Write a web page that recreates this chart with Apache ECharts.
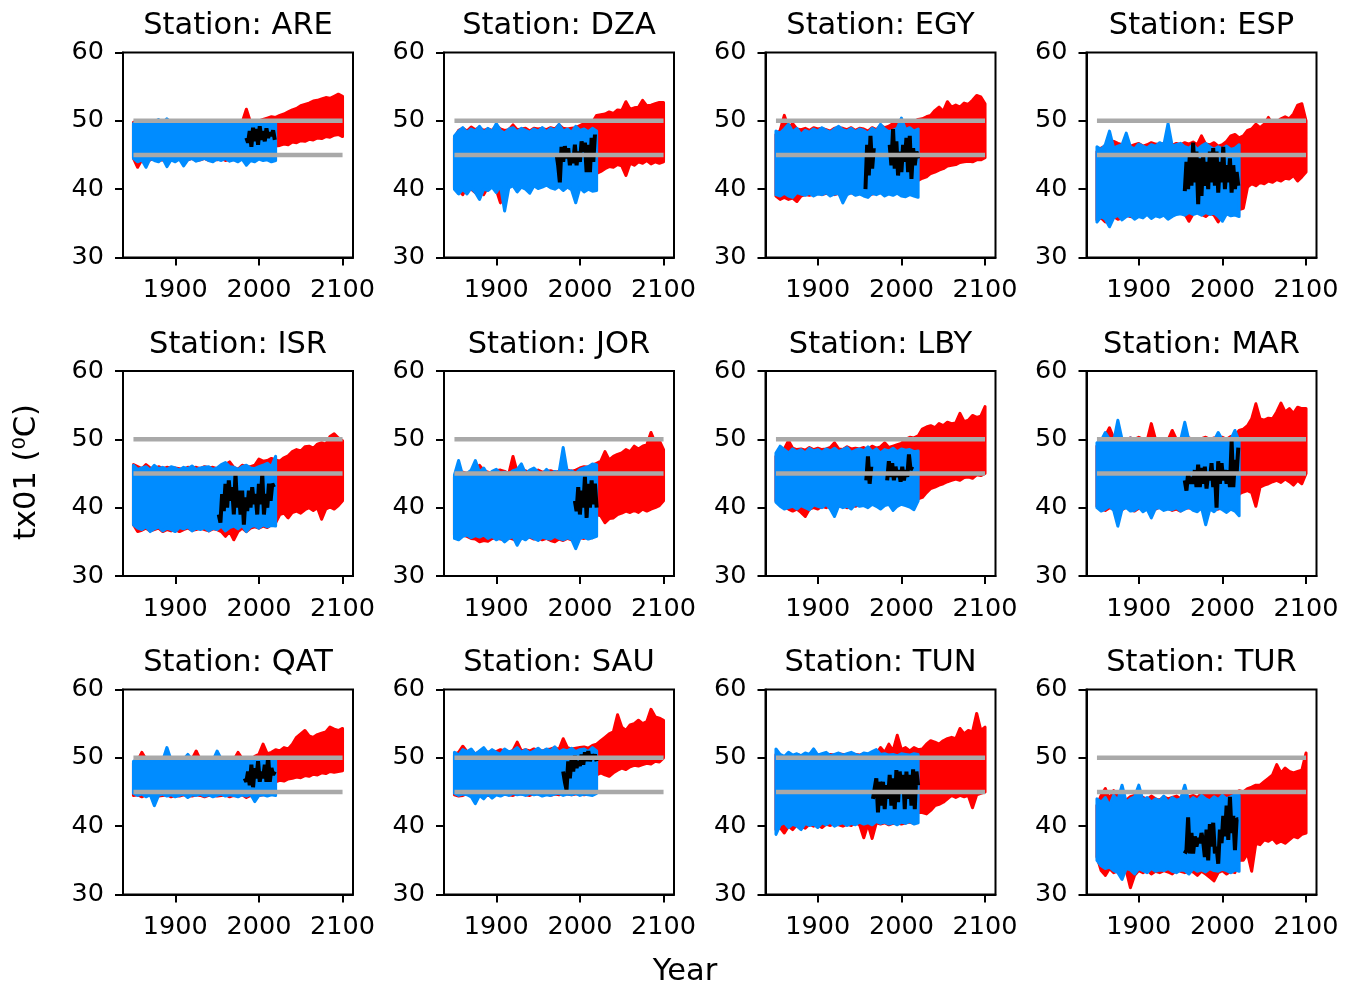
<!DOCTYPE html>
<html>
<head>
<meta charset="utf-8">
<script src="https://cdn.jsdelivr.net/npm/echarts@6/dist/echarts.min.js"></script>
<style>
html, body { margin: 0; padding: 0; background: #fff; }
#chart { width: 1352px; height: 985px; }
</style>
</head>
<body>
<div id="chart"></div>
<script>
// stations, one panel each
var stations = ['ARE', 'DZA', 'EGY', 'ESP', 'ISR', 'JOR', 'LBY', 'MAR', 'QAT', 'SAU', 'TUN', 'TUR'];

// sample years for the model envelopes (blue stops at 2020, index 34)
var years = [1850, 1855, 1860, 1865, 1870, 1875, 1880, 1885, 1890, 1895,
             1900, 1905, 1910, 1915, 1920, 1925, 1930, 1935, 1940, 1945,
             1950, 1955, 1960, 1965, 1970, 1975, 1980, 1985, 1990, 1995,
             2000, 2005, 2010, 2015, 2020, 2025, 2030, 2035, 2040, 2045,
             2050, 2055, 2060, 2065, 2070, 2075, 2080, 2085, 2090, 2095, 2100];

var xTicks = [1900, 2000, 2100];
var thresholds = [45, 50];
var thresholdSpan = [1850, 2100];

// historical model range (blue), 1850-2020
var blueHi = {
  ARE: [49.6,49.9,49.5,50.0,49.7,49.8,50.2,49.6,50.3,49.7,49.9,49.5,50.0,49.6,49.8,49.7,49.9,49.5,49.8,49.6,50.0,49.7,49.5,49.9,49.6,49.8,49.7,49.9,49.6,49.8,49.7,49.5,49.9,49.6,49.8],
  DZA: [47.8,48.5,49.0,48.3,48.8,48.5,49.2,48.3,48.9,48.4,49.6,48.6,48.2,48.8,49.0,48.4,48.9,48.6,48.3,48.8,48.5,49.0,48.4,48.9,48.6,49.5,48.5,48.8,48.3,49.2,48.6,48.8,48.4,48.9,48.5],
  EGY: [48.5,48.2,48.8,49.5,48.4,48.9,48.0,48.6,48.3,48.8,48.5,49.0,48.6,48.3,48.8,49.2,48.7,48.5,48.9,48.4,48.8,48.6,48.2,48.9,48.5,49.5,48.8,48.4,48.6,48.9,50.4,48.7,49.0,48.5,48.8],
  ESP: [46.2,45.8,46.5,48.5,46.0,46.3,46.5,48.2,46.2,45.9,46.6,46.3,46.0,46.5,46.3,46.8,46.5,49.6,46.3,46.5,46.7,46.2,46.0,46.5,45.8,46.3,46.7,46.2,45.8,46.2,45.9,46.3,45.8,46.0,46.5],
  ISR: [46.2,45.6,45.8,46.0,45.5,46.2,45.7,45.9,45.6,46.0,45.8,45.5,45.9,45.7,46.1,45.6,45.8,45.9,46.0,45.6,45.8,46.3,46.6,46.0,45.9,45.6,46.0,46.2,45.8,45.7,46.0,46.2,46.5,46.0,47.5],
  JOR: [44.8,46.9,44.6,45.0,45.5,46.9,45.2,45.8,44.8,45.3,45.6,45.0,45.2,44.9,45.4,45.6,46.4,45.0,45.5,45.8,45.2,44.9,45.6,45.0,45.3,45.1,48.8,45.2,45.4,45.0,45.6,45.8,46.0,46.4,46.3],
  LBY: [48.0,49.0,48.5,48.0,48.6,48.2,48.5,48.0,48.7,48.3,48.5,48.1,48.6,48.3,48.7,48.2,48.5,48.8,48.1,48.4,48.6,48.3,48.9,48.2,48.6,48.0,48.5,48.3,48.7,48.2,48.6,48.4,48.5,48.2,48.3],
  MAR: [49.5,49.8,51.0,50.0,49.7,52.8,50.0,49.6,50.2,49.8,50.0,49.7,49.9,49.8,50.0,49.7,49.9,49.6,50.0,49.8,49.9,52.5,49.8,49.7,49.9,49.8,49.6,50.0,49.8,51.0,49.9,49.7,50.0,51.3,49.8],
  QAT: [49.5,49.8,49.6,49.9,49.5,49.7,49.8,49.6,51.5,49.7,49.9,49.6,49.8,50.5,49.7,49.6,49.8,49.7,49.9,49.6,51.0,49.8,49.7,49.9,49.6,49.8,49.5,49.7,49.6,49.9,49.8,49.7,49.6,49.8,49.9],
  SAU: [50.8,50.4,51.2,50.9,51.3,50.5,51.0,51.5,50.7,51.2,50.8,50.5,51.3,50.9,51.0,51.5,50.8,51.2,50.7,51.0,51.4,50.9,51.3,51.0,51.6,50.8,51.2,51.0,51.4,50.9,51.2,51.3,50.9,51.5,51.0],
  TUN: [51.3,50.5,50.2,50.8,50.4,50.6,50.3,50.7,50.5,51.3,50.4,50.6,50.8,50.3,50.5,50.7,50.4,50.6,50.8,50.5,50.3,50.7,50.6,50.9,51.2,50.5,50.6,50.4,50.5,50.3,50.6,50.5,50.4,50.6,50.5],
  TUR: [44.0,43.5,44.2,43.0,44.5,43.8,46.0,43.5,44.0,44.3,46.0,43.8,44.2,43.5,44.0,43.7,44.4,43.5,44.2,43.8,44.0,46.0,43.6,44.2,43.8,44.5,44.0,43.7,44.3,43.9,44.5,44.0,44.3,44.6,44.5]
};
var blueLo = {
  ARE: [44.5,44.0,44.3,43.2,44.5,44.2,44.0,44.5,43.3,44.3,44.0,44.4,43.4,44.3,44.5,44.1,44.3,44.5,44.2,44.0,44.4,44.2,44.5,44.1,44.3,44.0,44.4,43.5,44.2,44.0,44.4,44.2,44.3,44.0,44.2],
  DZA: [40.0,39.3,40.0,39.3,40.2,39.5,38.5,40.0,39.8,40.3,39.5,40.5,36.8,40.2,40.5,39.6,40.3,40.0,39.4,40.5,40.1,40.3,40.6,40.2,40.0,40.4,39.8,40.3,39.9,38.0,40.2,39.6,40.0,39.7,39.8],
  EGY: [39.2,39.0,39.4,39.0,38.8,39.5,39.3,39.1,39.4,39.0,39.3,39.2,39.5,39.0,39.3,39.4,38.0,39.2,39.5,39.1,39.3,39.0,38.8,39.4,39.2,39.5,39.0,39.3,39.1,39.4,39.0,38.9,39.2,39.0,38.8],
  ESP: [35.2,36.0,35.6,34.5,35.8,36.2,35.5,36.0,36.2,35.6,36.0,35.8,36.3,35.7,36.1,35.9,36.2,35.6,36.0,36.3,36.4,36.2,36.6,36.3,36.5,36.2,36.6,36.3,36.5,36.0,35.3,36.4,36.1,36.2,36.0],
  ISR: [37.5,37.0,36.8,37.2,36.5,36.9,37.2,36.6,37.0,36.8,36.5,37.1,36.9,37.2,36.6,37.0,36.8,37.1,36.6,37.0,36.8,37.3,36.6,37.1,37.3,36.9,37.4,36.5,37.2,37.4,37.0,37.5,37.2,37.4,37.3],
  JOR: [35.5,35.3,35.8,36.0,35.6,35.9,35.7,36.0,35.5,35.8,35.3,35.6,35.0,35.5,35.8,34.5,35.6,35.3,35.8,35.5,35.2,35.7,35.5,35.4,35.8,35.5,35.3,35.6,35.4,34.0,35.5,35.7,35.4,35.6,35.8],
  LBY: [40.8,40.2,39.8,40.0,40.2,39.8,40.3,40.0,39.7,40.4,40.2,40.0,40.5,39.8,38.7,40.3,40.0,40.2,39.8,40.5,40.2,40.3,40.0,40.5,40.2,39.8,40.3,40.5,39.6,40.2,40.5,40.3,40.1,39.7,41.0],
  MAR: [40.0,39.5,39.8,40.2,39.6,37.3,39.8,40.0,39.5,39.6,40.1,39.4,39.8,38.5,39.9,40.0,39.6,39.8,39.7,40.0,39.5,39.8,40.1,39.6,39.4,40.0,37.5,39.8,39.4,40.0,39.7,39.3,39.8,39.5,38.8],
  QAT: [44.8,44.5,44.7,44.3,44.6,43.0,44.5,44.7,44.4,44.6,44.3,44.5,44.7,44.2,44.6,44.5,44.7,44.4,44.6,44.3,44.5,44.7,44.4,44.6,44.5,44.3,44.6,44.4,44.7,43.6,44.5,44.6,44.4,44.6,44.5],
  SAU: [44.8,44.5,44.7,44.6,44.3,43.3,44.5,44.0,44.7,44.1,44.6,44.4,44.7,44.5,44.8,44.6,44.7,44.5,44.8,44.6,44.7,44.4,44.6,44.5,44.7,44.8,44.5,44.7,44.6,44.8,44.5,44.7,44.6,44.5,44.8],
  TUN: [38.8,40.2,40.5,39.8,40.3,40.0,39.5,40.4,40.1,40.3,39.8,40.5,40.2,40.6,40.0,40.3,40.5,40.1,40.4,40.2,40.6,40.3,40.5,40.2,40.7,40.4,40.6,40.3,40.5,40.2,40.6,40.4,40.7,40.3,40.5],
  TUR: [35.0,34.2,33.8,34.0,33.5,33.2,32.2,33.8,33.6,33.0,33.8,33.5,33.2,33.8,33.4,33.6,33.5,33.8,33.4,33.2,33.6,33.5,33.0,33.8,33.4,33.6,33.3,33.8,33.5,33.4,33.7,33.5,33.2,33.6,33.4]
};

// full model range (red), 1850-2100
var redHi = {
  ARE: [49.8,49.5,49.9,49.8,49.6,49.8,49.7,49.9,49.6,49.8,50.0,49.7,49.6,49.9,49.8,49.7,49.6,49.9,49.8,49.6,49.7,49.8,49.6,49.9,49.7,49.9,49.8,51.7,49.8,49.9,50.0,50.2,50.4,50.6,50.5,50.8,51.0,51.3,51.6,51.8,52.2,52.4,52.6,52.9,53.0,53.2,53.4,53.3,53.6,53.9,53.6],
  DZA: [47.5,48.6,48.9,48.5,49.1,48.7,49.0,48.6,48.8,48.6,49.3,48.8,48.6,48.7,49.4,48.7,48.8,48.9,48.5,48.9,48.8,48.9,48.7,49.0,48.8,49.4,48.9,48.8,48.9,49.0,49.3,49.6,49.5,49.8,50.8,50.9,51.0,51.3,51.1,51.6,51.5,52.8,51.7,51.9,52.0,53.0,52.2,52.3,52.5,52.7,52.7],
  EGY: [48.0,48.6,50.8,49.0,49.6,48.8,48.7,48.9,48.6,49.0,48.8,48.9,48.7,48.5,48.9,49.0,48.9,48.7,49.0,48.6,48.9,48.8,48.5,49.0,48.7,49.3,49.0,49.2,49.6,49.5,49.8,49.7,50.0,49.9,50.2,50.3,50.6,50.8,51.5,52.0,51.4,52.8,52.0,52.3,52.0,52.6,52.4,53.0,53.7,53.5,52.5],
  ESP: [45.5,46.0,46.3,46.5,47.0,46.7,46.5,46.8,46.3,46.5,46.7,46.3,46.5,46.8,46.6,46.5,46.7,46.6,46.4,46.7,46.5,46.8,46.6,46.9,46.5,47.8,46.6,46.5,46.8,46.3,46.5,47.0,47.8,48.0,47.5,47.8,48.6,48.8,49.5,49.0,49.5,50.5,49.5,49.8,50.3,50.6,50.3,51.0,52.3,52.5,50.0],
  ISR: [46.3,46.0,45.7,46.3,45.8,45.6,46.0,45.7,45.9,45.8,45.8,45.7,45.6,45.9,45.8,45.9,45.7,46.0,45.8,45.9,45.7,45.9,46.3,46.7,45.9,45.6,46.2,46.0,46.0,46.2,47.1,46.8,46.9,47.2,47.0,46.8,47.3,47.6,48.2,48.5,48.3,48.9,49.0,48.7,49.3,49.5,49.3,50.4,50.8,50.2,49.8],
  JOR: [44.5,45.0,45.2,45.0,45.3,45.0,46.2,45.4,45.2,45.0,45.4,45.5,45.3,45.0,47.5,45.2,45.3,45.4,45.1,45.3,45.5,45.2,45.3,45.4,45.2,45.3,45.2,45.5,45.3,45.5,45.8,46.0,45.9,46.2,46.5,46.8,48.2,47.0,47.5,47.8,48.0,48.5,48.2,49.0,48.6,49.0,49.2,51.0,49.5,49.8,48.5],
  LBY: [47.5,48.4,48.6,49.8,48.7,48.5,48.6,48.4,48.8,48.5,48.7,48.5,48.6,48.8,49.5,48.6,48.5,48.9,48.6,48.7,48.6,48.8,48.5,49.0,48.7,48.9,49.5,48.8,49.0,49.2,49.4,50.0,50.3,50.2,50.5,51.5,51.8,52.0,51.7,52.3,52.0,52.5,52.3,52.4,53.8,52.6,52.8,53.5,53.2,53.4,54.8],
  MAR: [49.0,49.6,50.5,51.7,50.2,50.0,49.8,49.9,50.2,50.0,50.3,50.0,49.8,52.3,50.0,49.8,50.0,49.9,51.3,50.0,50.1,49.8,50.2,50.0,49.9,50.1,50.3,50.0,50.2,50.1,50.3,50.0,50.4,50.5,51.3,51.5,52.0,53.0,55.2,53.0,52.8,53.1,53.0,54.0,55.3,54.0,54.5,53.8,54.7,54.5,54.5],
  QAT: [49.3,49.6,50.8,49.8,49.5,49.8,49.7,49.8,49.6,49.9,49.7,49.8,49.9,49.7,49.8,51.0,49.7,49.8,49.6,49.9,49.8,49.7,49.9,49.8,49.7,50.8,49.9,50.0,49.8,50.2,50.5,52.0,50.6,50.8,51.2,51.0,51.5,51.3,52.0,53.0,53.5,54.0,53.2,53.0,53.4,53.6,53.8,54.5,54.2,54.0,54.3],
  SAU: [50.5,50.8,51.7,50.9,51.0,50.6,50.9,51.0,50.8,51.0,50.9,51.2,51.0,50.8,51.1,52.3,51.0,51.2,51.0,51.3,51.1,51.0,51.2,51.3,51.5,51.2,52.8,51.5,51.3,51.4,51.5,51.6,51.4,51.8,52.0,52.5,53.0,53.5,53.8,56.3,54.5,54.0,54.8,55.0,55.5,55.0,55.3,57.1,56.0,55.8,55.5],
  TUN: [50.5,50.3,50.0,50.4,50.2,50.5,50.3,50.4,50.2,50.6,50.4,50.5,50.3,50.5,50.4,50.6,50.5,50.4,50.6,50.5,50.4,50.6,50.5,50.7,50.6,51.5,50.8,52.0,51.0,53.3,51.2,51.5,51.0,51.5,51.2,51.3,52.0,52.5,52.3,52.0,52.5,52.8,53.0,52.8,54.3,53.5,54.0,53.8,56.5,54.0,54.5],
  TUR: [43.0,44.5,45.5,44.0,45.2,44.5,44.0,43.8,44.3,44.5,44.0,44.2,43.9,44.4,44.0,43.8,44.3,44.0,44.2,44.4,44.0,44.2,44.3,44.5,44.2,44.8,45.0,44.6,45.0,44.8,45.0,44.7,45.0,44.8,45.2,45.0,45.5,45.7,46.0,46.0,46.5,47.0,47.5,49.0,47.8,48.5,48.0,47.8,48.0,48.2,50.7]
};
var redLo = {
  ARE: [44.5,43.2,44.3,44.0,44.3,44.5,44.2,44.3,44.0,44.5,44.2,44.4,44.1,44.3,44.5,44.2,44.3,44.5,44.2,44.4,44.3,44.5,44.2,44.4,44.3,44.5,44.4,44.6,44.3,44.5,44.6,44.5,45.0,45.5,46.3,46.4,46.6,46.5,46.9,46.8,47.1,47.0,47.3,47.2,47.5,47.4,47.7,47.6,47.9,48.0,47.7],
  DZA: [40.2,39.8,39.2,40.3,40.0,39.5,40.0,39.2,40.3,40.5,39.9,38.0,39.8,40.5,40.6,39.8,40.5,40.2,39.9,40.6,40.3,40.5,40.6,40.4,40.2,40.5,40.0,40.3,40.1,40.4,40.3,40.0,40.2,40.1,42.3,42.6,43.0,43.3,43.2,43.6,43.4,42.0,43.8,43.5,44.0,43.8,44.2,43.7,44.0,43.8,44.0],
  EGY: [39.0,38.5,38.8,38.5,38.7,38.2,39.0,39.2,39.1,39.3,39.5,39.2,39.4,39.3,39.2,39.4,38.5,39.3,39.5,39.2,39.4,39.2,39.1,39.3,39.4,39.5,39.3,39.6,39.5,39.5,39.7,39.6,39.8,40.0,41.3,41.6,41.8,42.3,42.5,42.8,43.0,43.4,43.5,43.6,43.9,44.0,44.1,44.0,44.3,44.3,44.6],
  ESP: [35.5,35.8,35.2,35.5,36.0,35.6,35.8,36.2,36.0,35.9,36.3,36.0,36.5,35.9,36.4,36.2,36.5,36.0,36.3,36.5,36.6,36.4,35.3,36.4,36.7,36.3,36.0,36.5,36.2,35.2,36.5,36.3,36.8,36.9,37.0,37.2,40.3,40.8,40.5,41.0,40.8,41.2,41.0,41.4,41.2,41.6,41.5,42.0,41.2,41.8,42.5],
  ISR: [37.5,36.5,36.7,37.0,36.6,36.8,37.0,36.5,36.8,36.6,36.8,36.5,36.8,37.0,36.7,36.8,37.0,36.8,36.6,36.9,36.8,36.5,35.8,36.5,35.3,36.5,37.0,36.5,37.0,37.2,37.0,37.3,37.1,37.5,37.8,39.0,39.2,38.5,39.3,39.5,39.2,39.7,40.0,39.6,40.0,38.3,39.8,40.1,39.8,40.3,41.0],
  JOR: [36.0,35.6,36.0,35.8,35.5,35.4,35.0,35.2,35.1,35.5,35.6,35.4,35.3,35.6,35.4,35.1,35.5,35.6,35.7,35.4,35.6,35.3,35.5,35.2,35.0,35.4,35.2,35.5,35.3,35.5,35.6,35.5,35.7,35.6,39.0,38.8,37.8,38.4,38.5,39.0,39.2,39.5,39.3,39.6,39.3,39.8,39.5,39.8,40.0,40.3,41.0],
  LBY: [41.0,40.5,40.2,39.8,39.5,39.8,39.3,38.7,39.8,40.0,39.8,40.2,40.0,40.3,39.8,40.2,40.3,40.0,40.4,40.2,40.5,40.4,40.3,40.6,40.5,40.7,40.5,40.6,40.8,40.5,40.9,41.0,41.0,41.2,41.3,41.5,42.2,42.8,43.0,43.3,43.5,43.8,44.0,44.2,44.0,44.4,44.5,44.3,44.8,44.7,45.0],
  MAR: [40.2,39.8,39.6,40.0,39.8,40.0,39.7,40.1,39.8,39.5,39.9,40.0,39.7,39.9,39.8,40.1,39.8,39.9,39.6,39.8,39.5,39.9,40.0,39.8,39.7,39.9,39.8,40.0,39.7,39.8,40.0,39.8,39.9,40.0,42.0,42.3,42.5,42.2,40.2,43.0,43.3,43.5,43.8,44.0,43.7,44.2,43.8,43.3,44.0,43.5,45.0],
  QAT: [44.5,44.6,44.3,44.6,44.5,44.7,44.4,44.5,44.6,44.3,44.5,44.4,44.6,44.5,44.4,44.6,44.5,44.3,44.5,44.6,44.4,44.5,44.6,44.3,44.5,44.4,44.6,44.2,44.5,44.4,44.5,44.6,44.8,45.0,46.5,46.7,46.6,46.9,47.0,47.2,47.1,47.4,47.3,47.6,47.5,47.8,47.7,48.0,47.9,48.0,48.1],
  SAU: [44.6,44.4,44.5,44.8,44.6,44.7,44.4,44.7,44.5,44.6,44.8,44.5,44.7,44.6,44.5,44.8,44.7,44.6,44.5,44.8,44.7,44.6,44.8,44.5,44.7,44.6,44.8,44.7,44.6,44.7,44.8,44.6,44.7,44.8,47.5,47.8,47.5,47.3,47.8,48.2,48.5,48.3,48.7,48.9,48.8,49.0,49.2,49.1,49.5,49.4,50.0],
  TUN: [39.5,39.8,39.0,40.0,39.5,40.2,40.0,39.7,40.3,40.0,40.2,39.8,40.3,40.1,40.4,40.2,40.0,40.3,40.1,40.5,40.2,38.3,40.3,38.2,40.5,40.3,40.5,40.2,40.4,40.5,40.3,40.5,40.6,40.4,42.0,42.0,41.8,42.3,43.0,43.2,43.5,44.0,44.5,44.2,44.5,44.3,44.5,42.7,44.6,44.8,45.0],
  TUR: [35.5,33.5,32.8,33.8,33.2,33.5,33.0,33.5,31.0,32.8,33.5,33.2,33.6,33.0,33.4,33.2,33.5,33.3,33.0,33.6,33.4,33.2,33.5,33.3,32.8,33.4,33.0,32.5,32.0,33.2,33.5,33.0,33.4,33.2,35.0,35.0,36.0,33.4,37.5,37.3,38.0,37.8,38.2,37.5,37.8,37.5,38.0,38.5,38.3,38.8,39.0]
};

// station observations (black), '-' marks a gap in the record
var obs = {
  ARE: [[1985,47.5],[1987,46.8],[1989,48.5],[1991,46.2],[1993,49],[1995,47],[1997,48.8],[1999,46.5],[2001,49.2],[2003,47.2],[2005,48.5],[2007,47],[2009,48.9],[2011,47.5],[2013,48.3],[2015,47.8],[2017,48.6],[2019,47.2]],
  DZA: [[1972,45.2],[1974,43.5],[1976,41],[1978,46.2],[1980,44],[1982,46.3],[1984,44.5],[1986,46],[1988,43.5],[1990,45],[1992,43.8],[1994,46.5],[1996,43.5],[1998,45.5],[2000,44],[2002,47],[2004,45.5],[2006,46.8],[2008,42.5],[2010,46.5],[2012,42.5],[2014,47.5],[2016,44],[2018,48]],
  EGY: [[1957,40],[1959,46.5],[1961,42],[1963,47.8],[1965,43],[1967,46],[1975,'-'],[1986,46.5],[1988,43.5],[1990,48.8],[1992,43],[1994,47],[1996,42],[1998,45.5],[2000,42.5],[2002,46.5],[2004,44],[2006,47.5],[2008,42.5],[2010,47.8],[2012,41.5],[2014,46],[2016,43.5],[2018,45.5],[2020,44.5]],
  ESP: [[1955,39.7],[1957,44],[1959,40],[1961,45],[1963,40.5],[1965,46.8],[1967,41],[1969,45.5],[1971,37.8],[1973,44.5],[1975,39],[1977,45],[1979,40.5],[1981,44],[1983,40],[1985,45.5],[1987,41],[1989,46],[1991,40.5],[1993,45.5],[1995,39.5],[1997,44],[1999,41],[2001,46.2],[2003,40],[2005,43.5],[2007,41],[2009,44.5],[2011,39.5],[2013,43.5],[2015,40],[2017,42.5],[2019,40.5]],
  ISR: [[1952,39],[1954,37.8],[1956,42],[1958,39.5],[1960,43.5],[1962,40],[1964,44],[1966,41],[1968,43],[1970,39],[1972,45],[1974,40],[1976,42.5],[1978,39],[1980,42.5],[1982,37.5],[1984,41.5],[1986,39.5],[1988,42.5],[1990,40],[1992,43],[1994,40.5],[1996,42],[1998,39],[2000,43.5],[2002,40.5],[2004,45],[2006,39],[2008,42],[2010,40],[2012,43.5],[2014,41],[2016,43.5],[2018,43]],
  JOR: [[1994,41],[1996,39.5],[1998,43],[2000,39],[2002,42.5],[2004,40],[2006,44.5],[2008,38.5],[2010,43.5],[2012,40],[2014,44],[2016,40.5],[2018,43.5],[2020,40]],
  LBY: [[1958,44],[1960,47.5],[1962,43.5],[1964,46],[1974,'-'],[1983,44],[1985,46.8],[1987,44.5],[1989,46.5],[1991,44],[1993,46],[1995,44.5],[1997,45.5],[1999,43.8],[2001,46],[2003,44],[2005,45.5],[2007,44.5],[2009,47.8],[2011,45.5],[2013,46]],
  MAR: [[1955,44],[1957,42.5],[1959,45],[1961,43.5],[1963,44.5],[1965,43.5],[1967,45.5],[1969,43],[1971,46.3],[1973,43],[1975,45.8],[1977,43.5],[1979,46],[1981,42.8],[1983,45],[1985,44],[1987,46.5],[1989,43],[1991,45.5],[1993,40],[1995,46.8],[1997,43.5],[1999,46.5],[2001,44],[2003,45.5],[2005,43.5],[2007,45.5],[2009,43],[2011,49.8],[2013,43],[2015,47],[2017,45],[2019,48.8]],
  QAT: [[1983,47],[1985,46.5],[1987,48],[1989,46],[1991,49],[1993,45.7],[1995,48.5],[1997,47],[1999,49.5],[2001,46.5],[2003,48],[2005,47],[2007,49],[2009,46.5],[2011,50.3],[2013,46.5],[2015,48.5],[2017,47.5],[2019,48]],
  SAU: [[1980,48],[1982,46.5],[1984,45.3],[1986,49.5],[1988,47],[1990,49.8],[1992,48],[1994,50.3],[1996,48.5],[1998,49.5],[2000,48.8],[2002,50.5],[2004,49],[2006,50.8],[2008,49.5],[2010,51],[2012,49.5],[2014,50.5],[2016,49.8],[2018,50.5],[2020,49.5]],
  TUN: [[1966,44],[1968,44],[1970,47],[1972,42],[1974,46.5],[1976,43],[1978,46.5],[1980,42.5],[1982,46],[1984,44],[1986,47.5],[1988,43],[1990,47],[1992,42.5],[1994,48.2],[1996,43.5],[1998,48],[2000,45],[2002,47.5],[2004,42.5],[2006,48],[2008,44],[2010,47.5],[2012,43],[2014,48.3],[2016,42.5],[2018,48],[2020,46]],
  TUR: [[1955,36],[1957,36.5],[1959,41.3],[1961,36],[1963,39],[1965,36],[1967,38.5],[1969,37],[1971,38.3],[1973,37.5],[1975,39],[1977,37.8],[1979,35.5],[1981,39.5],[1983,35],[1985,40.3],[1987,37],[1989,40.5],[1991,36],[1993,37],[1995,34.5],[1997,39.5],[1999,37.5],[2001,41.5],[2003,38.5],[2005,43],[2007,38],[2009,44.3],[2011,39],[2013,41.5],[2015,36.5],[2017,41],[2019,41]]
};

var FONT = 'DejaVu Sans';
var RED = '#ff0000', BLUE = '#008cff', GREY = '#a9a9a9';
var colLeft = [123, 444, 765.5, 1086.5];
var rowTop = [52.5, 371, 689.5];
var PW = 230, PH = 205;

var chart = echarts.init(document.getElementById('chart'));

// filled band between lo and hi; the whole outline is drawn once, on the first item
function band(idx, hi, lo, n, color, z) {
    var rows = [];
    for (var k = 0; k < n; k++) rows.push([years[k], lo[k], hi[k]]);
    return {
        type: 'custom', xAxisIndex: idx, yAxisIndex: idx, z: z, silent: true,
        data: rows,
        encode: { x: 0, y: [1, 2] },
        renderItem: function (params, api) {
            if (params.dataIndexInside !== 0) return null;
            var upper = [], lower = [];
            for (var k = 0; k < params.dataInsideLength; k++) {
                upper.push(api.coord([api.value(0, k), api.value(2, k)]));
                lower.unshift(api.coord([api.value(0, k), api.value(1, k)]));
            }
            return {
                type: 'polygon',
                shape: { points: upper.concat(lower) },
                style: { fill: color, stroke: color, lineWidth: 3, lineJoin: 'round' }
            };
        }
    };
}

var grids = [], xAxes = [], yAxes = [], series = [], graphics = [];

stations.forEach(function (st, i) {
    var left = colLeft[i % 4], top = rowTop[Math.floor(i / 4)];
    grids.push({ left: left, top: top, width: PW, height: PH, show: true,
                 borderColor: '#000', borderWidth: 2, backgroundColor: 'transparent' });
    xAxes.push({
        type: 'value', gridIndex: i, min: 1837.5, max: 2112.5,
        axisLine: { lineStyle: { color: '#000', width: 2 } },
        axisTick: { show: true, length: 8, lineStyle: { color: '#000', width: 2 }, customValues: xTicks },
        axisLabel: { customValues: xTicks, color: '#000', fontFamily: FONT, fontSize: 25.5, margin: 20,
                     formatter: function (v) { return String(v); } },
        splitLine: { show: false }
    });
    yAxes.push({
        type: 'value', gridIndex: i, min: 30, max: 60, interval: 10,
        axisLine: { show: true, lineStyle: { color: '#000', width: 2 } },
        axisTick: { show: true, length: 8, lineStyle: { color: '#000', width: 2 } },
        axisLabel: { color: '#000', fontFamily: FONT, fontSize: 25.5, margin: 19 },
        splitLine: { show: false }
    });

    series.push(band(i, redHi[st], redLo[st], years.length, RED, 2));
    series.push(band(i, blueHi[st], blueLo[st], blueHi[st].length, BLUE, 3));
    series.push({
        type: 'line', xAxisIndex: i, yAxisIndex: i, data: obs[st], symbol: 'none',
        silent: true, z: 4, connectNulls: false,
        lineStyle: { color: '#000', width: 4, join: 'bevel' }
    });
    thresholds.forEach(function (t) {
        series.push({
            type: 'line', xAxisIndex: i, yAxisIndex: i, symbol: 'none', silent: true, z: 5,
            data: [[thresholdSpan[0], t], [thresholdSpan[1], t]],
            lineStyle: { color: GREY, width: 4.5 }
        });
    });

    graphics.push({
        type: 'text', x: left + PW / 2, y: top - 26,
        style: { text: 'Station: ' + st, fontFamily: FONT, fontSize: 30.5, fill: '#000',
                 textAlign: 'center', textVerticalAlign: 'middle' }
    });
});

graphics.push({
    type: 'text', x: 27, y: 472, rotation: Math.PI / 2,
    style: { text: 'tx01 (\u2070C)', fontFamily: FONT, fontSize: 30.5, fill: '#000',
             textAlign: 'center', textVerticalAlign: 'middle' }
});
graphics.push({
    type: 'text', x: 685, y: 972,
    style: { text: 'Year', fontFamily: FONT, fontSize: 30.5, fill: '#000',
             textAlign: 'center', textVerticalAlign: 'middle' }
});

chart.setOption({
    animation: false,
    backgroundColor: '#fff',
    grid: grids,
    xAxis: xAxes,
    yAxis: yAxes,
    series: series,
    graphic: graphics
});
</script>
</body>
</html>
